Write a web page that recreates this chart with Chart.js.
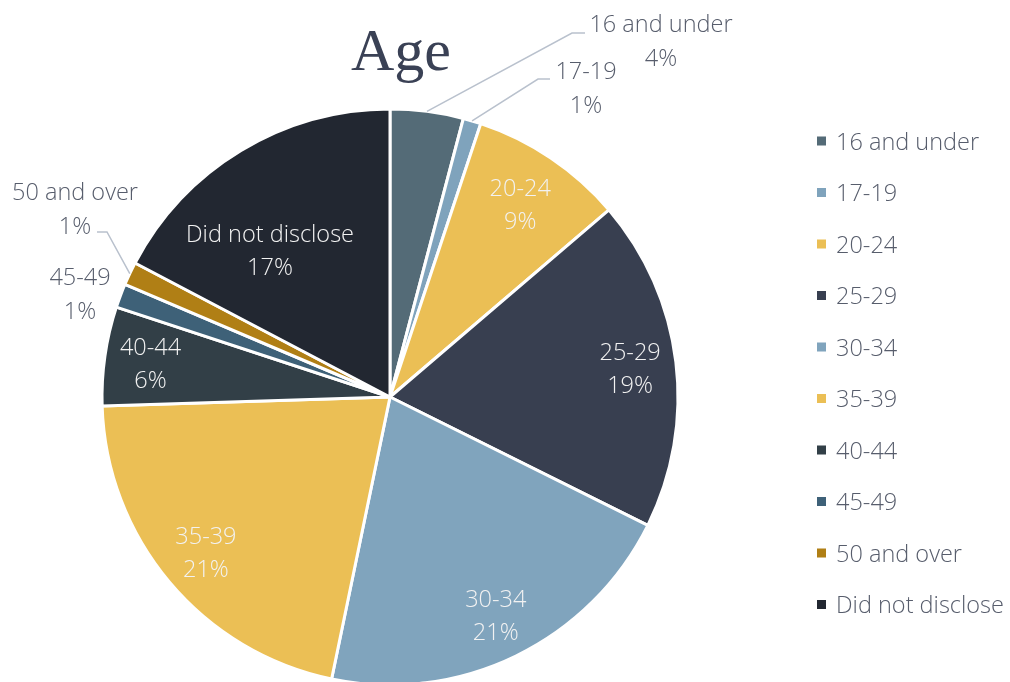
<!DOCTYPE html>
<html>
<head>
<meta charset="utf-8">
<script src="https://cdn.jsdelivr.net/npm/chart.js@4.4.1/dist/chart.umd.min.js"></script>
<style>
  html, body { margin: 0; padding: 0; background: #ffffff; overflow: hidden; }
  #wrap { position: relative; width: 1010px; height: 682px; }
</style>
</head>
<body>
<div id="wrap"><canvas id="c" width="1010" height="682"></canvas></div>
<script>
// ---- data ----
const categories = ["16 and under", "17-19", "20-24", "25-29", "30-34", "35-39", "40-44", "45-49", "50 and over", "Did not disclose"];
const shares = [4.1, 1.0, 8.65, 18.6, 20.9, 21.25, 5.55, 1.35, 1.3, 17.3];
const chartTitle = "Age";

// ---- styles ----
const sliceColors = ["#546b77", "#7fa3bc", "#ebbf55", "#383f50", "#80a4bd", "#ebbf55", "#323f47", "#3e6178", "#b07f15", "#222731"];
const labelFont = '300 23.5px "Open Sans", "Noto Sans", sans-serif';
const insideColor = "#f2f2f2";
const outsideColor = "#575d6c";
const leaderColor = "#b9c1cd";
// label placement per slice
const labelPlacement = [
  { mode: "out", elbow: [572, 33], end: [585, 33], text: [661, 25] },
  { mode: "out", elbow: [538, 79], end: [550, 79], text: [586, 72] },
  { mode: "in", rf: 0.81, da: 0 },
  { mode: "in", rf: 0.84, da: 0 },
  { mode: "in", rf: 0.84, da: 0 },
  { mode: "in", rf: 0.835, da: 0 },
  { mode: "in", rf: 0.84, da: 0 },
  { mode: "out", text: [80, 278] },
  { mode: "out", elbow: [107, 232], end: [97, 232], text: [75, 193] }
  ,{ mode: "in", rf: 0.66, da: -8 }
];

const labelPlugin = {
  id: "sliceLabels",
  afterDatasetsDraw(chart) {
    const ctx = chart.ctx;
    const meta = chart.getDatasetMeta(0);
    const ds = chart.data.datasets[0];
    ctx.save();
    ctx.font = labelFont;
    ctx.textAlign = "center";
    ctx.textBaseline = "middle";
    meta.data.forEach((arc, i) => {
      const p = labelPlacement[i];
      const pct = Math.round(ds.data[i]) + "%";
      const name = chart.data.labels[i];
      const mid = (arc.startAngle + arc.endAngle) / 2;
      if (p.mode === "in") {
        const a = mid + p.da * Math.PI / 180;
        const r = arc.outerRadius * p.rf;
        const x = arc.x + Math.cos(a) * r;
        const y = arc.y + Math.sin(a) * r + 2;
        ctx.fillStyle = insideColor;
        ctx.fillText(name, x, y - 16.5);
        ctx.fillText(pct, x, y + 16.5);
      } else {
        if (p.elbow) {
          const sx = arc.x + Math.cos(mid) * arc.outerRadius;
          const sy = arc.y + Math.sin(mid) * arc.outerRadius;
          ctx.strokeStyle = leaderColor;
          ctx.lineWidth = 1.5;
          ctx.beginPath();
          ctx.moveTo(sx, sy);
          ctx.lineTo(p.elbow[0], p.elbow[1]);
          ctx.lineTo(p.end[0], p.end[1]);
          ctx.stroke();
        }
        ctx.fillStyle = outsideColor;
        ctx.fillText(name, p.text[0], p.text[1]);
        ctx.fillText(pct, p.text[0], p.text[1] + 34);
      }
    });
    ctx.restore();
  }
};

const legendPlugin = {
  id: "sideLegend",
  afterDraw(chart) {
    const ctx = chart.ctx;
    const ds = chart.data.datasets[0];
    ctx.save();
    ctx.font = labelFont;
    ctx.textAlign = "left";
    ctx.textBaseline = "middle";
    chart.data.labels.forEach((lab, i) => {
      const y = 141 + i * 51.5;
      ctx.fillStyle = ds.backgroundColor[i];
      ctx.fillRect(817, y - 4.5, 9, 9);
      ctx.fillStyle = outsideColor;
      ctx.fillText(lab, 836, y + 2);
    });
    ctx.restore();
  }
};

const titlePlugin = {
  id: "bigTitle",
  afterDraw(chart) {
    const ctx = chart.ctx;
    ctx.save();
    ctx.font = '60px "Liberation Serif", "DejaVu Serif", serif';
    ctx.fillStyle = "#3a4155";
    ctx.textAlign = "center";
    ctx.textBaseline = "alphabetic";
    ctx.fillText(chartTitle, 401, 70);
    ctx.restore();
  }
};

new Chart(document.getElementById("c"), {
  type: "pie",
  data: {
    labels: categories,
    datasets: [{
      data: shares,
      backgroundColor: sliceColors,
      borderColor: "#ffffff",
      borderWidth: 3,
      radius: 288,
      clip: false
    }]
  },
  options: {
    responsive: false,
    animation: false,
    layout: { padding: { top: 112, bottom: 0, left: 0, right: 230 } },
    plugins: {
      legend: { display: false },
      tooltip: { enabled: false },
      title: { display: false }
    }
  },
  plugins: [labelPlugin, legendPlugin, titlePlugin]
});
</script>
</body>
</html>
